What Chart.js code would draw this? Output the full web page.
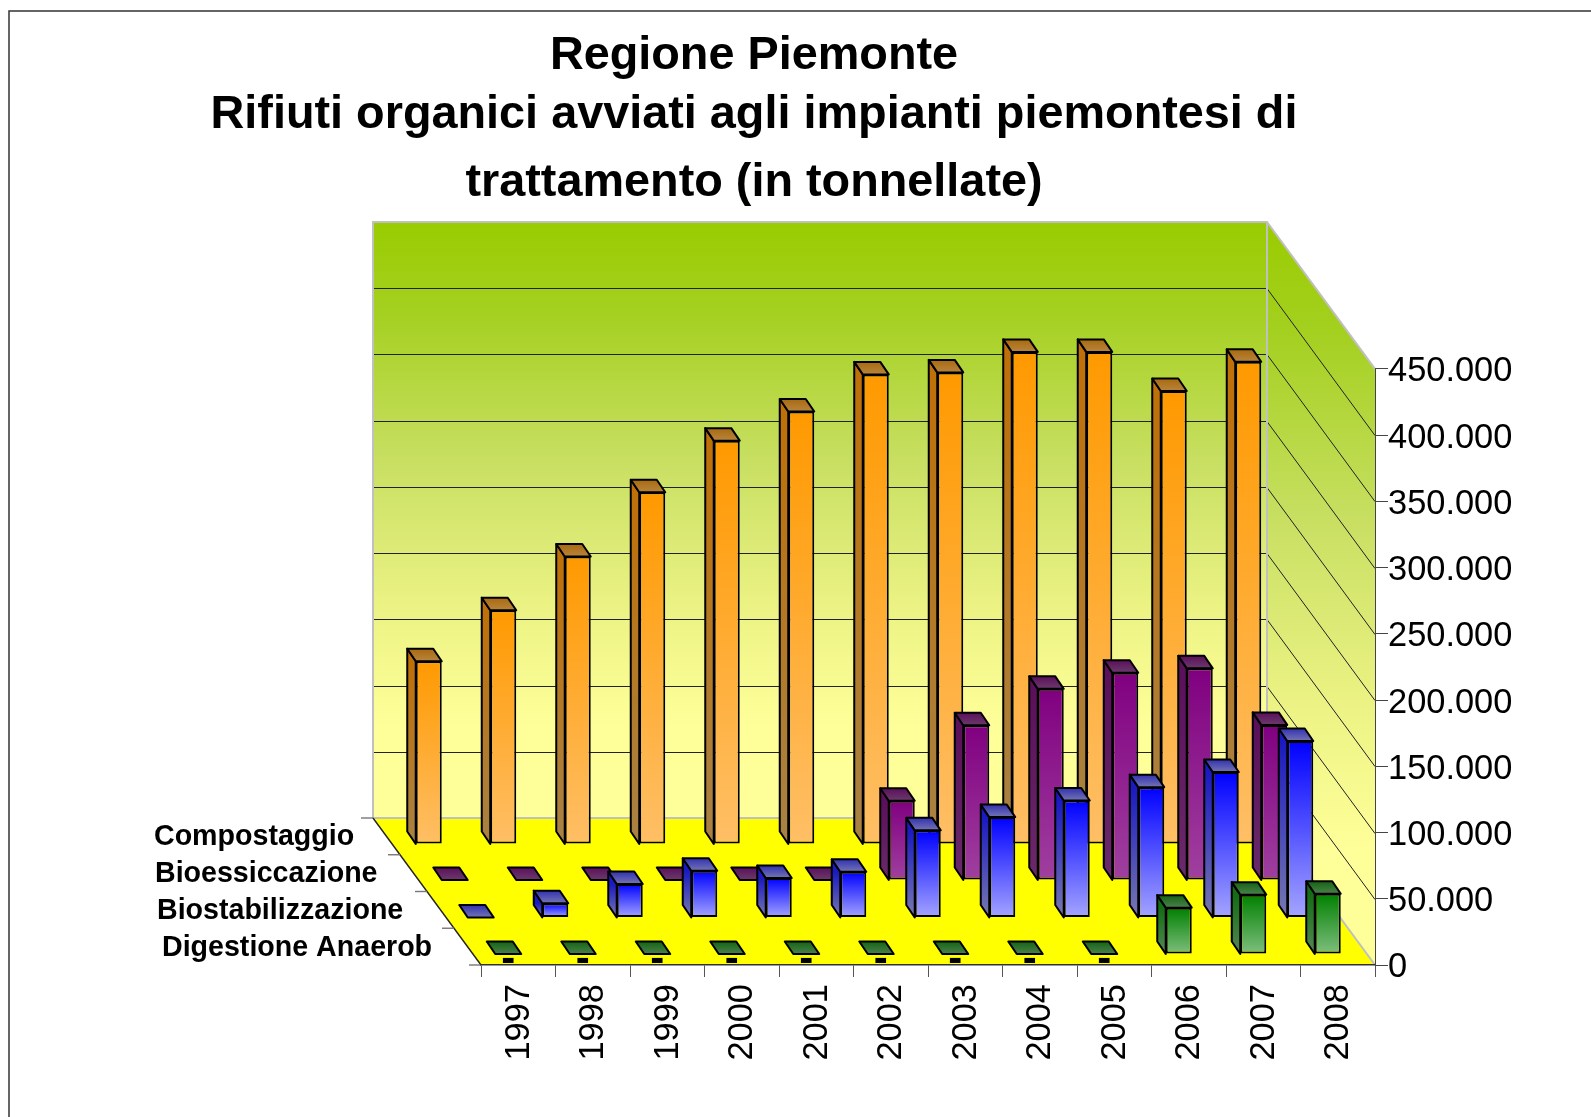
<!DOCTYPE html>
<html>
<head>
<meta charset="utf-8">
<title>Regione Piemonte</title>
<script src="https://cdn.jsdelivr.net/npm/chart.js@4"></script>
<style>
    html, body { margin: 0; padding: 0; background: #fff; }
    canvas { display: block; }
</style>
</head>
<body>
<canvas id="chart" width="1591" height="1117"></canvas>
<script>
const years = ['1997', '1998', '1999', '2000', '2001', '2002', '2003', '2004', '2005', '2006', '2007', '2008'];
const compostaggio = [138000, 176500, 217000, 265500, 304500, 326500, 354500, 356000, 371500, 371500, 342000, 364000];
const bioessiccazione = [0, 0, 0, 0, 0, 0, 59800, 116800, 144300, 156500, 159800, 117100];
const biostabilizzazione = [0, 10800, 25300, 35300, 29800, 34500, 65800, 75800, 88300, 98400, 109800, 133200];
const digestione = [0, 0, 0, 0, 0, 0, 0, 0, 0, 35000, 44800, 45500];
const seriesNames = ['Compostaggio', 'Bioessiccazione', 'Biostabilizzazione', 'Digestione Anaerob'];
const yTickLabels = ['0', '50.000', '100.000', '150.000', '200.000', '250.000', '300.000', '350.000', '400.000', '450.000'];

// [front, side, top] gradients per series, dark end first
const palettes = [
    { front: ['#ff9900', '#ffbf66'], side: ['#bf7008', '#a88244'], top: ['#a86a10', '#b8843c'] },
    { front: ['#800080', '#a040a0'], side: ['#5a105a', '#6a2a6a'], top: ['#5c105c', '#6a3a6a'] },
    { front: ['#0000ff', '#a5a5ff'], side: ['#1a1ac0', '#7878b0'], top: ['#3232b0', '#7474b4'] },
    { front: ['#008000', '#7fbf7f'], side: ['#146c14', '#558855'], top: ['#146414', '#4c804c'] }
];
const wallStops = [[0, '#99cc00'], [0.15, '#a4d020'], [0.4, '#c8df62'], [0.65, '#ecf384'], [0.85, '#ffff99'], [1, '#ffff99']];

// how far each row sits behind the front edge of the floor
const rowShift = [[-89.5, -121], [-63.5, -85], [-37.5, -47.5], [-10, -11]];
const labelPos = [[154, 837], [155, 874], [157, 911], [162, 948]];
const floorDepth = { x: 108, y: 147 };
const barDepth = { x: 8.5, y: 12.5 };

Chart.defaults.font.family = '"Liberation Sans", Arial, sans-serif';
Chart.defaults.color = '#000';

function frontFill(row) {
    return (c) => {
        const colors = palettes[row].front;
        if (c.type !== 'data') return colors[0];
        const yScale = c.chart.scales.y;
        const y0 = yScale.getPixelForValue(c.raw);
        const y1 = yScale.getPixelForValue(0);
        // scales are not ready yet on the first pass
        if (!Number.isFinite(y0) || !Number.isFinite(y1)) return colors[0];
        const g = c.chart.ctx.createLinearGradient(0, y0, 0, y1);
        g.addColorStop(0, colors[0]);
        g.addColorStop(1, colors[1]);
        return g;
    };
}

function poly(ctx, pts) {
    ctx.beginPath();
    pts.forEach((p, i) => i ? ctx.lineTo(p[0], p[1]) : ctx.moveTo(p[0], p[1]));
    ctx.closePath();
}

function vGradient(ctx, y0, y1, c0, c1) {
    const g = ctx.createLinearGradient(0, y0, 0, y1);
    g.addColorStop(0, c0);
    g.addColorStop(1, c1);
    return g;
}

function wallGradient(ctx, y0, y1) {
    const g = ctx.createLinearGradient(0, y0, 0, y1);
    wallStops.forEach(s => g.addColorStop(s[0], s[1]));
    return g;
}

const room3d = {
    id: 'room3d',
    afterLayout(chart) {
        // title is centred over the whole picture's left part, not over the plot
        chart.boxes.forEach(b => {
            if (!b.axis && b.options.position === 'top') {
                b.left = 0;
                b.right = 1508;
            }
        });
    },
    beforeDraw(chart) {
        const { ctx, chartArea: a, scales: { x: xScale, y: yScale } } = chart;
        const bx = a.left - floorDepth.x, rx = a.right - floorDepth.x;
        const backBottom = a.bottom - floorDepth.y, backTop = a.top - floorDepth.y;

        // nudge tick text, the library centres it a little too high
        yScale.getLabelItems(a).forEach(item => { item.textOffset += 3; });
        xScale.getLabelItems(a).forEach(item => { item.textOffset += 1; });

        ctx.save();
        ctx.strokeStyle = '#333';
        ctx.lineWidth = 1.5;
        ctx.beginPath();
        ctx.moveTo(9, 1117);
        ctx.lineTo(9, 11);
        ctx.lineTo(1591, 11);
        ctx.stroke();

        // back wall
        ctx.fillStyle = wallGradient(ctx, backTop, backBottom);
        ctx.fillRect(bx, backTop, rx - bx, backBottom - backTop);

        // right wall
        poly(ctx, [[rx, backTop], [a.right, a.top], [a.right, a.bottom], [rx, backBottom]]);
        ctx.fillStyle = wallGradient(ctx, backTop, a.bottom);
        ctx.fill();

        // gridlines along both walls
        ctx.strokeStyle = '#222';
        ctx.lineWidth = 1;
        yScale.ticks.forEach(t => {
            if (t.value === 0 || t.value === yScale.max) return;
            const yp = Math.round(yScale.getPixelForValue(t.value)) + 0.5;
            ctx.beginPath();
            ctx.moveTo(bx, yp - floorDepth.y);
            ctx.lineTo(rx, yp - floorDepth.y);
            ctx.lineTo(a.right, yp);
            ctx.stroke();
        });

        // floor
        poly(ctx, [[bx, backBottom], [rx, backBottom], [a.right, a.bottom], [a.left, a.bottom]]);
        ctx.fillStyle = '#ffff00';
        ctx.fill();

        // wall edges
        ctx.strokeStyle = '#c0c0c0';
        ctx.lineWidth = 2;
        ctx.beginPath();
        ctx.moveTo(a.right, a.bottom);
        ctx.lineTo(rx, backBottom);
        ctx.lineTo(bx, backBottom);
        ctx.lineTo(bx, backTop);
        ctx.lineTo(rx, backTop);
        ctx.lineTo(a.right, a.top);
        ctx.moveTo(rx, backTop);
        ctx.lineTo(rx, backBottom);
        ctx.stroke();

        // left edge of floor and depth ticks
        ctx.strokeStyle = '#222';
        ctx.lineWidth = 1.4;
        ctx.beginPath();
        ctx.moveTo(bx, backBottom);
        ctx.lineTo(a.left, a.bottom);
        ctx.stroke();
        ctx.strokeStyle = '#777';
        for (let i = 0; i <= 4; i++) {
            const f = i / 4;
            const tx = bx + floorDepth.x * f, ty = backBottom + floorDepth.y * f;
            ctx.beginPath();
            ctx.moveTo(tx - 12, ty);
            ctx.lineTo(tx, ty);
            ctx.stroke();
        }

        // series names
        ctx.fillStyle = '#000';
        ctx.font = 'bold 28.6px "Liberation Sans", Arial, sans-serif';
        ctx.textBaseline = 'middle';
        ctx.textAlign = 'left';
        seriesNames.forEach((name, i) => ctx.fillText(name, labelPos[i][0], labelPos[i][1]));
        ctx.restore();
    },
    beforeDatasetDraw(chart, args) {
        const ctx = chart.ctx;
        const row = args.index;
        const pal = palettes[row];
        const baseY = chart.scales.y.getPixelForValue(0);
        ctx.save();
        ctx.translate(rowShift[row][0], rowShift[row][1]);
        ctx.strokeStyle = '#000';
        ctx.lineWidth = 2;
        ctx.lineJoin = 'round';
        args.meta.data.forEach(el => {
            const { x, y, width } = el.getProps(['x', 'y', 'width'], true);
            const left = x - width / 2, right = x + width / 2;
            if (baseY - y > 0.5) {
                poly(ctx, [[left, y], [left - barDepth.x, y - barDepth.y], [left - barDepth.x, baseY - barDepth.y], [left, baseY]]);
                ctx.fillStyle = vGradient(ctx, y, baseY, pal.side[0], pal.side[1]);
                ctx.fill();
                ctx.stroke();
            }
            poly(ctx, [[left, y], [left - barDepth.x, y - barDepth.y], [right - barDepth.x, y - barDepth.y], [right, y]]);
            ctx.fillStyle = vGradient(ctx, y - barDepth.y, y, pal.top[0], pal.top[1]);
            ctx.fill();
            ctx.stroke();
        });
    },
    afterDatasetDraw(chart, args) {
        const ctx = chart.ctx;
        // zero values in the front row carry a "-" data label
        if (args.index === 3) {
            const baseY = chart.scales.y.getPixelForValue(0);
            ctx.fillStyle = '#000';
            ctx.font = 'bold 42px "Liberation Sans", Arial, sans-serif';
            ctx.textAlign = 'center';
            ctx.textBaseline = 'middle';
            args.meta.data.forEach((el, i) => {
                if (digestione[i] === 0) ctx.fillText('-', el.x, baseY + 6);
            });
        }
        ctx.restore();
    }
};

function barSet(label, data, row) {
    return {
        label,
        data,
        order: 4 - row,
        clip: false,
        backgroundColor: frontFill(row),
        borderColor: '#000',
        borderWidth: 2,
        borderSkipped: false,
        barPercentage: 0.349,
        categoryPercentage: 1,
        grouped: false
    };
}

new Chart(document.getElementById('chart').getContext('2d'), {
    type: 'bar',
    data: {
        labels: years,
        datasets: [
            barSet(seriesNames[0], compostaggio, 0),
            barSet(seriesNames[1], bioessiccazione, 1),
            barSet(seriesNames[2], biostabilizzazione, 2),
            barSet(seriesNames[3], digestione, 3)
        ]
    },
    options: {
        responsive: false,
        animation: false,
        layout: { padding: { left: 481, right: 0, top: 0, bottom: 0 } },
        plugins: {
            legend: { display: false },
            tooltip: { enabled: false },
            title: {
                display: true,
                text: ['Regione Piemonte', 'Rifiuti organici avviati agli impianti piemontesi di'],
                color: '#000',
                font: { size: 46.8, weight: 'bold', lineHeight: 1.26 },
                padding: { top: 26.5, bottom: 0 }
            },
            subtitle: {
                display: true,
                text: 'trattamento (in tonnellate)',
                color: '#000',
                font: { size: 46.8, weight: 'bold', lineHeight: 1.26 },
                padding: { top: 9, bottom: 156.5 }
            }
        },
        scales: {
            x: {
                offset: true,
                grid: { offset: true, drawOnChartArea: false, tickLength: 12, color: '#555', lineWidth: 1 },
                border: { display: true, color: '#333', width: 1.5 },
                ticks: {
                    font: { size: 34.4 },
                    color: '#000',
                    minRotation: 90,
                    maxRotation: 90,
                    autoSkip: false,
                    padding: 7
                },
                afterFit(scale) { scale.height = 152; }
            },
            y: {
                position: 'right',
                min: 0,
                max: 450000,
                grid: { drawOnChartArea: false, tickLength: 13, color: '#444', lineWidth: 1 },
                border: { display: true, color: '#444', width: 1 },
                ticks: {
                    stepSize: 50000,
                    font: { size: 34.4 },
                    color: '#000',
                    padding: 0,
                    callback: (v, i) => yTickLabels[i]
                },
                afterFit(scale) { scale.width = 216; }
            }
        }
    },
    plugins: [room3d]
});
</script>
</body>
</html>
